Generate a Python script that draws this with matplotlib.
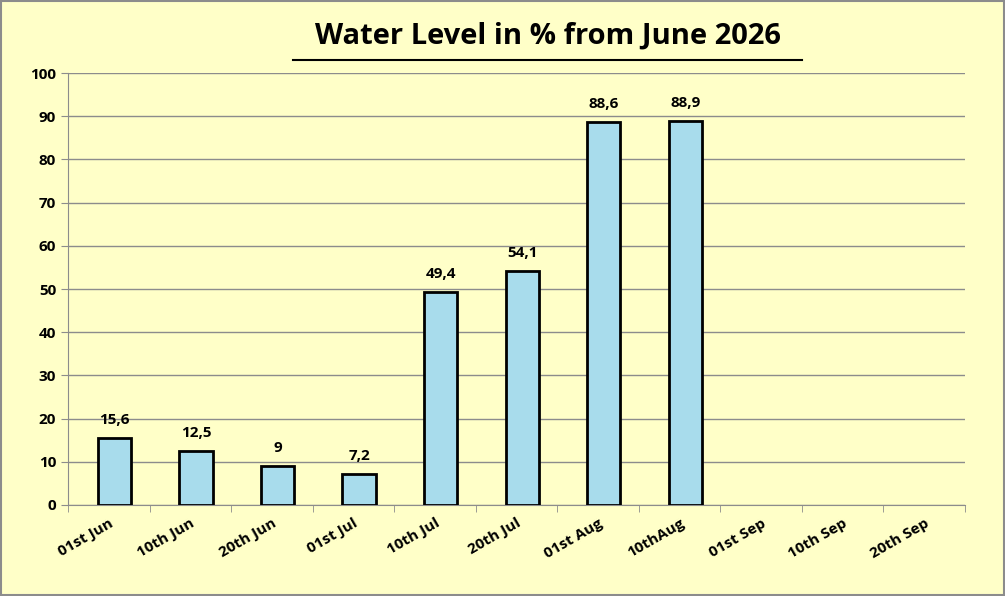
import matplotlib.pyplot as plt
import numpy as np

categories = ["01st Jun", "10th Jun", "20th Jun", "01st Jul", "10th Jul", "20th Jul",
              "01st Aug", "10thAug", "01st Sep", "10th Sep", "20th Sep"]
values = [15.6, 12.5, 9, 7.2, 49.4, 54.1, 88.6, 88.9, None, None, None]
labels = ["15,6", "12,5", "9", "7,2", "49,4", "54,1", "88,6", "88,9"]

plt.rcParams['font.family'] = ['Open Sans', 'DejaVu Sans']
bg = "#ffffc8"

fig = plt.figure(figsize=(10.05, 5.96), dpi=100, facecolor=bg)
ax = fig.add_axes([0.0677, 0.1527, 0.8925, 0.7248], facecolor=bg)

x = np.arange(len(categories))
xs = [i + 0.07 for i, v in enumerate(values) if v is not None]
vs = [v for v in values if v is not None]
bars = ax.bar(xs, vs, width=0.41, color="#a8dcec", edgecolor="black", linewidth=2, zorder=3)

for b, lab in zip(bars, labels):
    ax.text(b.get_x() + b.get_width() / 2, b.get_height() + 2.5, lab,
            ha="center", va="bottom", fontsize=11, fontweight="bold")

ax.set_xlim(-0.5, len(categories) - 0.5)
ax.set_ylim(0, 100)
ax.set_yticks(range(0, 101, 10))
ax.yaxis.grid(True, color="#8c8c8c", linewidth=1, zorder=0)
ax.set_xticks(x)
ax.set_xticklabels(categories, rotation=30, ha="right", rotation_mode="anchor",
                   fontsize=11, fontweight="bold")
ax.set_xticks(np.arange(-0.5, len(categories)), minor=True)
ax.tick_params(axis="x", which="major", length=0, pad=8)
ax.tick_params(axis="x", which="minor", length=5, color="#8c8c8c")
ax.tick_params(axis="y", length=5, color="#8c8c8c", labelsize=11)
for t in ax.get_yticklabels():
    t.set_fontweight("bold")
for s in ["top", "right"]:
    ax.spines[s].set_visible(False)
for s in ["left", "bottom"]:
    ax.spines[s].set_color("#8c8c8c")

fig.text(0.545, 0.94, "Water Level in % from June 2026", ha="center", va="center",
         fontsize=21, fontweight="bold")
fig.add_artist(plt.Line2D([0.292, 0.798], [0.9, 0.9], color="black", linewidth=1.5))
fig.add_artist(plt.Rectangle((0.001, 0.001), 0.998, 0.998, fill=False,
                             edgecolor="#8c8c8c", linewidth=1.5))

fig.savefig("out.png", dpi=100, facecolor=bg)
